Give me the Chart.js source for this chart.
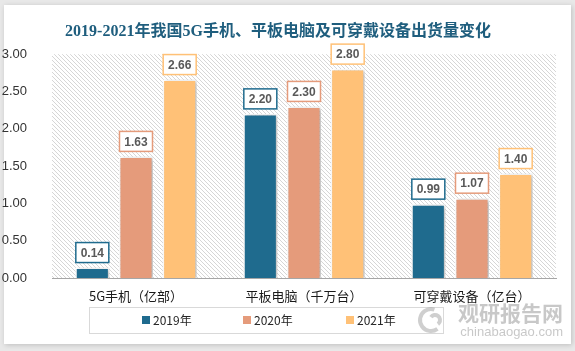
<!DOCTYPE html>
<html>
<head>
<meta charset="utf-8">
<script src="https://cdn.jsdelivr.net/npm/chart.js@4"></script>
<style>
  html, body { margin: 0; padding: 0; background: #e8e8e8; }
  #wrap { position: relative; width: 575px; height: 351px; }
</style>
</head>
<body>
<div id="wrap"><canvas id="shipChart" width="575" height="351"></canvas></div>
<script>
// Данные графика
const categories = ['5G手机（亿部）', '平板电脑（千万台）', '可穿戴设备（亿台）'];
const seriesNames = ['2019年', '2020年', '2021年'];
const values2019 = [0.14, 2.20, 0.99];
const values2020 = [1.63, 2.30, 1.07];
const values2021 = [2.66, 2.80, 1.40];
const yMin = 0;
const yMax = 3;
const yStep = 0.5;

const colors = ['#1F6B8E', '#E59B7B', '#FFC177'];
const cjkFont = '"Noto Sans CJK SC", "Liberation Sans", sans-serif';
const numFont = '"Liberation Sans", "Noto Sans CJK SC", sans-serif';

// Штриховка фона области графика
function makeHatch() {
    const c = document.createElement('canvas');
    c.width = 4;
    c.height = 4;
    const g = c.getContext('2d');
    g.fillStyle = '#ffffff';
    g.fillRect(0, 0, 4, 4);
    g.fillStyle = '#d6d6d6';
    for (let i = 0; i < 4; i++) {
        g.fillRect(i, i, 1, 1);
    }
    return c;
}

// Фон: серая подложка и белая карточка, штриховка
const backgroundPlugin = {
    id: 'cardBackground',
    beforeDraw(chart) {
        const ctx = chart.ctx;
        const area = chart.chartArea;
        ctx.save();
        ctx.shadowColor = 'rgba(0,0,0,0.18)';
        ctx.shadowBlur = 5;
        ctx.shadowOffsetX = 1;
        ctx.shadowOffsetY = 1;
        ctx.fillStyle = '#ffffff';
        ctx.fillRect(4, 5, 567, 339);
        ctx.restore();

        ctx.save();
        ctx.fillStyle = ctx.createPattern(makeHatch(), 'repeat');
        ctx.fillRect(area.left, area.top, area.right - area.left, area.bottom - area.top);
        ctx.restore();
    }
};

// Тень у столбцов
const shadowPlugin = {
    id: 'barShadow',
    beforeDatasetsDraw(chart) {
        const ctx = chart.ctx;
        ctx.save();
        ctx.shadowColor = 'rgba(0,0,0,0.28)';
        ctx.shadowBlur = 4;
        ctx.shadowOffsetX = 2;
        ctx.shadowOffsetY = 1;
    },
    afterDatasetsDraw(chart) {
        chart.ctx.restore();
    }
};

// Подписи значений в рамках
const labelPlugin = {
    id: 'valueBoxes',
    afterDatasetsDraw(chart) {
        const ctx = chart.ctx;
        ctx.save();
        ctx.font = 'bold 12px ' + numFont;
        ctx.textAlign = 'center';
        ctx.textBaseline = 'middle';
        chart.data.datasets.forEach((ds, di) => {
            const meta = chart.getDatasetMeta(di);
            meta.data.forEach((bar, i) => {
                const w = 33, h = 20;
                const x = bar.x - w / 2;
                const y = bar.y - 5 - h;
                ctx.fillStyle = '#ffffff';
                ctx.fillRect(x, y, w, h);
                ctx.strokeStyle = colors[di];
                ctx.lineWidth = 1.5;
                ctx.strokeRect(x, y, w, h);
                ctx.fillStyle = '#595959';
                ctx.fillText(ds.data[i].toFixed(2), bar.x, y + h / 2 + 1);
            });
        });
        ctx.restore();
    }
};

// Легенда в рамке и водяной знак
const legendPlugin = {
    id: 'boxLegend',
    afterDraw(chart) {
        const ctx = chart.ctx;
        const top = chart.chartArea.bottom + 29;
        ctx.save();
        ctx.strokeStyle = '#d9d9d9';
        ctx.lineWidth = 1;
        ctx.strokeRect(89.5, top + 0.5, 354, 26);

        const starts = [142, 243, 346];
        ctx.font = '12px ' + cjkFont;
        ctx.textBaseline = 'middle';
        ctx.textAlign = 'left';
        chart.data.datasets.forEach((ds, di) => {
            ctx.fillStyle = colors[di];
            ctx.fillRect(starts[di], top + 9, 8, 8);
            ctx.fillStyle = '#262626';
            ctx.fillText(ds.label, starts[di] + 11, top + 13);
        });

        // водяной знак
        ctx.globalAlpha = 0.55;
        ctx.fillStyle = '#9a9a9a';
        ctx.font = 'bold 21px ' + cjkFont;
        ctx.textAlign = 'right';
        ctx.fillText('观研报告网', 563, 313);
        ctx.font = '13px ' + numFont;
        ctx.fillText('chinabaogao.com', 563, 332);
        ctx.strokeStyle = '#a8a8a8';
        ctx.lineWidth = 4;
        ctx.beginPath();
        ctx.arc(431, 320, 11, Math.PI * 0.3, Math.PI * 1.6);
        ctx.stroke();
        ctx.beginPath();
        ctx.arc(435, 320, 5, Math.PI * 1.2, Math.PI * 2.3);
        ctx.stroke();
        ctx.restore();
    }
};

const datasets = [values2019, values2020, values2021].map((vals, i) => ({
    label: seriesNames[i],
    data: vals,
    backgroundColor: colors[i],
    borderColor: '#ffffff',
    borderWidth: 1.5,
    categoryPercentage: 0.78,
    barPercentage: 0.78
}));

new Chart(document.getElementById('shipChart'), {
    type: 'bar',
    data: { labels: categories, datasets: datasets },
    options: {
        responsive: false,
        animation: false,
        layout: { padding: { left: 0, right: 19, top: 0, bottom: 43 } },
        scales: {
            y: {
                min: yMin,
                max: yMax,
                grid: { display: false },
                border: { display: false },
                ticks: {
                    stepSize: yStep,
                    padding: 17,
                    color: '#333333',
                    font: { size: 13, family: numFont },
                    callback: v => v.toFixed(2)
                },
                afterFit(scale) { scale.width = 52; }
            },
            x: {
                grid: { display: false },
                border: { display: true, color: '#a6a6a6', width: 1 },
                ticks: {
                    padding: 2,
                    color: '#1a1a1a',
                    font: { size: 13, family: cjkFont }
                },
                afterFit(scale) { scale.height = 30; }
            }
        },
        plugins: {
            legend: { display: false },
            tooltip: { enabled: false },
            title: {
                display: true,
                text: '2019-2021年我国5G手机、平板电脑及可穿戴设备出货量变化',
                color: '#1F5E7E',
                font: { size: 16, weight: 'bold', family: '"Liberation Serif", "Noto Sans CJK SC", serif' },
                padding: { top: 22, bottom: 13 }
            }
        }
    },
    plugins: [backgroundPlugin, shadowPlugin, labelPlugin, legendPlugin]
});
</script>
</body>
</html>
